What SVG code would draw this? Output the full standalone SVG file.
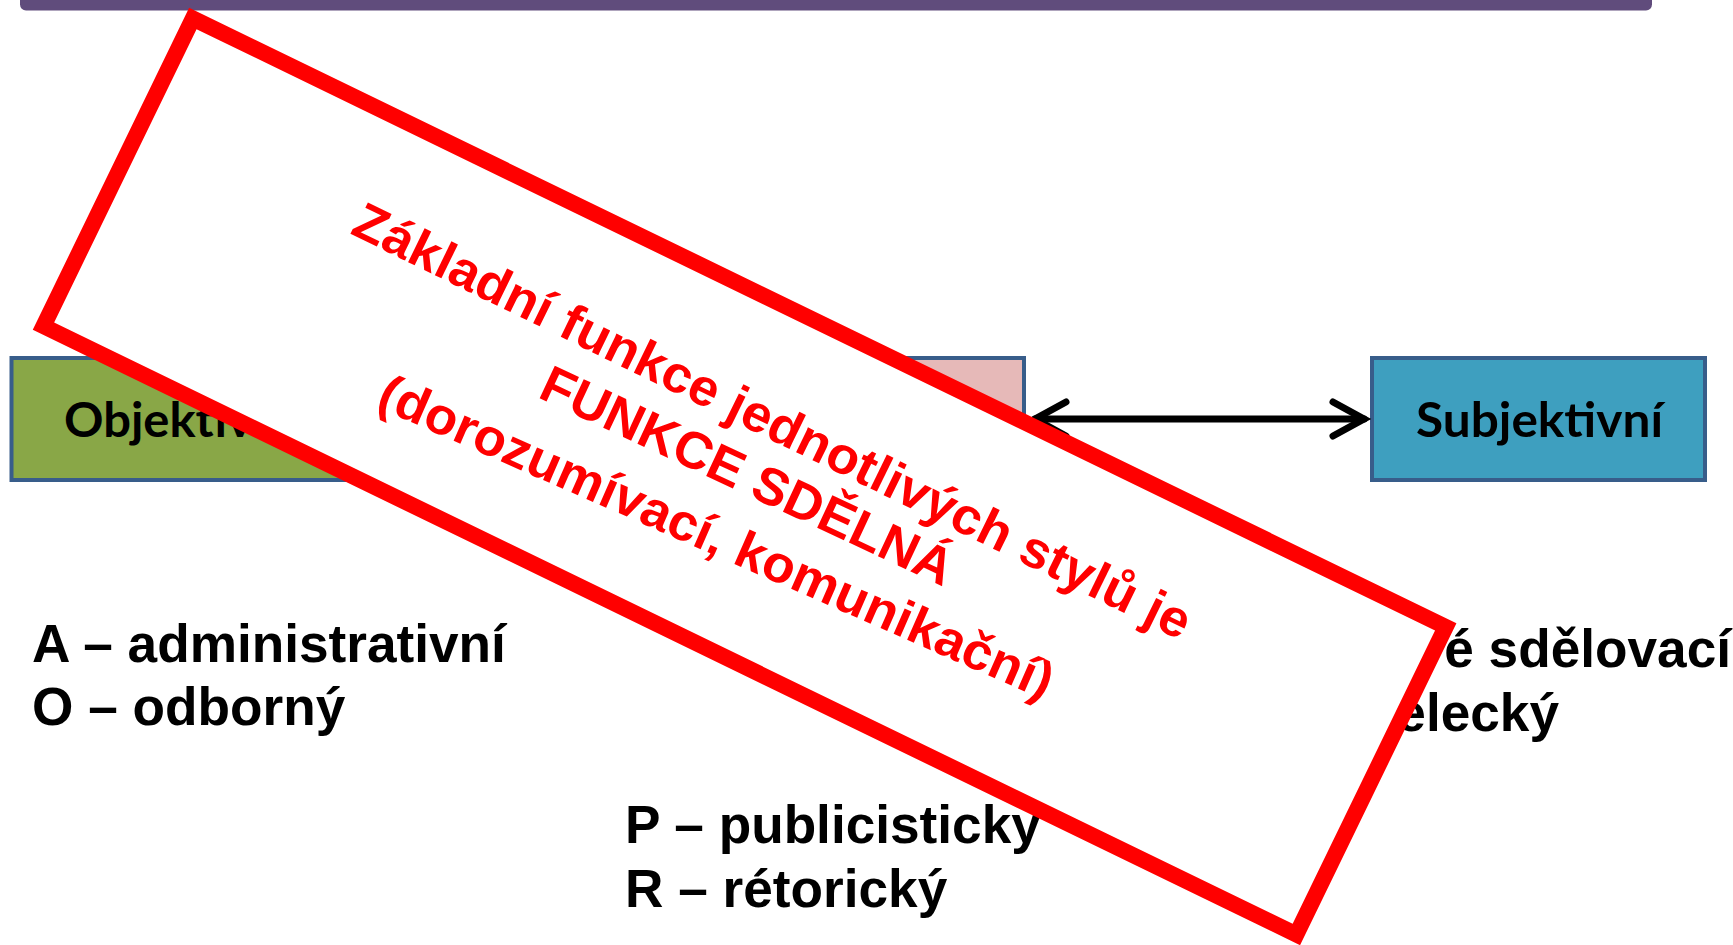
<svg xmlns="http://www.w3.org/2000/svg" width="1733" height="945" viewBox="0 0 1733 945">
  <style>
    .box { stroke: #385D8A; stroke-width: 4; }
    .boxlabel { font-family: Lato, "Open Sans", sans-serif; font-weight: bold; font-size: 47px; fill: #000; }
    .list { font-family: "Liberation Sans", Arial, sans-serif; font-weight: bold; font-size: 53.2px; fill: #000; }
    .red { font-family: "Liberation Sans", Arial, sans-serif; font-weight: bold; font-size: 52px; fill: #FF0000; }
    .conn { stroke: #000; stroke-width: 7; fill: none; stroke-linecap: round; }
  </style>
  <defs>
    <marker id="open" markerUnits="userSpaceOnUse" viewBox="-40 -24 48 48" markerWidth="48" markerHeight="48" refX="0" refY="0" orient="auto-start-reverse">
      <path d="M -31 -17 L 0 0 L -31 17" fill="none" stroke="#000" stroke-width="7" stroke-linecap="round" stroke-linejoin="miter"/>
    </marker>
  </defs>
  <rect width="1733" height="945" fill="#FFFFFF"/>
  <g id="title-bar">
    <rect x="20" y="-12" width="1632" height="22.5" rx="6" fill="#604C7C"/>
  </g>
  <g id="node-objektivni">
    <rect class="box" x="11.5" y="358" width="333" height="122" fill="#89A747"/>
    <text class="boxlabel" x="64" y="437" textLength="229" lengthAdjust="spacingAndGlyphs">Objektivní</text>
  </g>
  <g id="node-middle">
    <rect class="box" x="691" y="358" width="333" height="122" fill="#E6B9B8"/>
  </g>
  <g id="node-subjektivni">
    <rect class="box" x="1372" y="358" width="333" height="122" fill="#3E9FBF"/>
    <text class="boxlabel" x="1539.5" y="437" text-anchor="middle" textLength="247" lengthAdjust="spacingAndGlyphs">Subjektivní</text>
  </g>
  <g id="connectors">
    <line class="conn" x1="1035" y1="419" x2="1364" y2="419" marker-start="url(#open)" marker-end="url(#open)"/>
  </g>
  <g id="list-left">
    <text class="list" x="32" y="662">A – administrativní</text>
    <text class="list" x="32" y="725">O – odborný</text>
  </g>
  <g id="list-middle">
    <text class="list" x="625" y="843">P – publicisticky</text>
    <text class="list" x="625" y="907">R – rétorický</text>
  </g>
  <g id="list-right">
    <text class="list" x="1731" y="667" text-anchor="end">é sdělovací</text>
    <text class="list" x="1559" y="731" text-anchor="end">elecký</text>
  </g>
  <g id="note">
    <rect x="48.2" y="305.5" width="1392.8" height="342" fill="#FFFFFF" stroke="#FF0000" stroke-width="16" transform="rotate(25.9 744.6 476.5)"/>
    <text class="red" x="764.8" y="436.8" text-anchor="middle" textLength="926" lengthAdjust="spacingAndGlyphs" transform="rotate(26.1 764.8 436.8)">Základní funkce jednotlivých stylů je</text>
    <text class="red" x="740" y="491.7" text-anchor="middle" textLength="449" lengthAdjust="spacingAndGlyphs" transform="rotate(25.05 740 491.7)">FUNKCE SDĚLNÁ</text>
    <text class="red" x="709.4" y="553" text-anchor="middle" textLength="731" lengthAdjust="spacingAndGlyphs" transform="rotate(23.7 709.4 553)">(dorozumívací, komunikační)</text>
  </g>
</svg>
